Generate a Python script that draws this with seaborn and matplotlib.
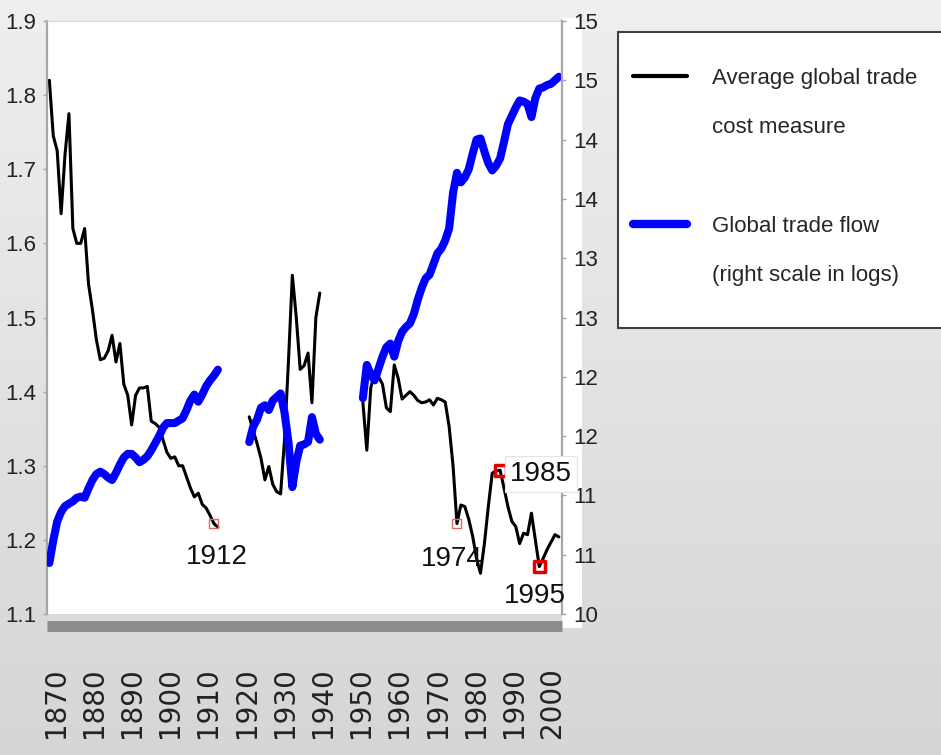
import numpy as np
import pandas as pd
import matplotlib
matplotlib.use("Agg")
import matplotlib.pyplot as plt
import seaborn as sns
from matplotlib import font_manager
from matplotlib.lines import Line2D
from matplotlib.patches import Rectangle
from matplotlib.colors import LinearSegmentedColormap

# ---------------- data ----------------
years_pre = list(range(1870, 1914))
cost_pre = [1.82, 1.745, 1.725, 1.64, 1.72, 1.775, 1.62, 1.60, 1.60, 1.62,
            1.545, 1.51, 1.47, 1.443, 1.445, 1.455, 1.476, 1.44, 1.465, 1.41,
            1.395, 1.355, 1.395, 1.405, 1.405, 1.407, 1.36, 1.357, 1.352, 1.335,
            1.318, 1.31, 1.312, 1.30, 1.30, 1.285, 1.27, 1.258, 1.263, 1.248,
            1.243, 1.233, 1.222, 1.217]
flow_pre = [10.43, 10.62, 10.78, 10.86, 10.91, 10.93, 10.95, 10.98, 10.99, 10.98,
            11.06, 11.13, 11.18, 11.20, 11.18, 11.15, 11.13, 11.19, 11.26, 11.32,
            11.35, 11.35, 11.32, 11.28, 11.30, 11.33, 11.38, 11.44, 11.50, 11.57,
            11.61, 11.61, 11.61, 11.63, 11.65, 11.72, 11.80, 11.85, 11.79, 11.85,
            11.92, 11.97, 12.01, 12.06]

years_inter = list(range(1921, 1940))
cost_inter = [1.366, 1.348, 1.33, 1.31, 1.281, 1.299, 1.275, 1.265, 1.262, 1.335,
              1.44, 1.557, 1.50, 1.43, 1.435, 1.452, 1.385, 1.50, 1.533]
flow_inter = [11.45, 11.58, 11.64, 11.74, 11.76, 11.72, 11.80, 11.83, 11.86, 11.70,
              11.45, 11.07, 11.28, 11.42, 11.43, 11.45, 11.66, 11.52, 11.47]

years_post = list(range(1950, 2001))
cost_post = [1.385, 1.321, 1.405, 1.425, 1.42, 1.41, 1.378, 1.373, 1.436, 1.418,
             1.39, 1.395, 1.40, 1.395, 1.388, 1.385, 1.386, 1.389, 1.382, 1.391,
             1.389, 1.386, 1.353, 1.30, 1.222, 1.247, 1.245, 1.228, 1.205, 1.175,
             1.155, 1.195, 1.245, 1.29, 1.293, 1.294, 1.27, 1.245, 1.225, 1.218,
             1.195, 1.209, 1.207, 1.236, 1.20, 1.164, 1.175, 1.187, 1.197, 1.207,
             1.204]
flow_post = [11.82, 12.10, 12.02, 11.97, 12.07, 12.17, 12.25, 12.28, 12.17, 12.30,
             12.38, 12.42, 12.45, 12.53, 12.65, 12.75, 12.83, 12.86, 12.95, 13.04,
             13.08, 13.15, 13.25, 13.55, 13.72, 13.64, 13.68, 13.75, 13.88, 14.00,
             14.01, 13.90, 13.80, 13.74, 13.78, 13.84, 13.98, 14.13, 14.20, 14.27,
             14.33, 14.32, 14.30, 14.19, 14.35, 14.43, 14.44, 14.46, 14.47, 14.50,
             14.53]

marked_light = [1912, 1974]
marked_strong = [1985, 1995]

left_ticks = [1.1, 1.2, 1.3, 1.4, 1.5, 1.6, 1.7, 1.8, 1.9]
left_labels = ["1.1", "1.2", "1.3", "1.4", "1.5", "1.6", "1.7", "1.8", "1.9"]
right_ticks = [10, 10.5, 11, 11.5, 12, 12.5, 13, 13.5, 14, 14.5, 15]
right_labels = ["10", "11", "11", "12", "12", "13", "13", "14", "14", "15", "15"]
x_labels = ["1870", "1880", "1890", "1900", "1910", "1920", "1930",
            "1940", "1950", "1960", "1970", "1980", "1990", "2000"]

legend_cost = ["Average global trade", "cost measure"]
legend_flow = ["Global trade flow", "(right scale in logs)"]

# ---------------- frame ----------------
df = pd.concat([
    pd.DataFrame({"year": years_pre, "cost": cost_pre, "flow": flow_pre, "seg": 1}),
    pd.DataFrame({"year": years_inter, "cost": cost_inter, "flow": flow_inter, "seg": 2}),
    pd.DataFrame({"year": years_post, "cost": cost_post, "flow": flow_post, "seg": 3}),
], ignore_index=True)

sns.set_style("white")
names = {f.name for f in font_manager.fontManager.ttflist}
NARROW = "Liberation Sans Narrow" if "Liberation Sans Narrow" in names else "Liberation Sans"
plt.rcParams["font.family"] = [NARROW, "DejaVu Sans"]

W, H = 941, 755
fig = plt.figure(figsize=(W / 100, H / 100), dpi=100)

# background gradient
bg = fig.add_axes([0, 0, 1, 1], zorder=0)
cmap = LinearSegmentedColormap.from_list("bg", ["#d6d6d6", "#efefef"])
bg.imshow(np.linspace(0, 1, 256).reshape(-1, 1), aspect="auto", cmap=cmap,
          origin="lower", extent=[0, 1, 0, 1])
bg.axis("off")

# white strip behind right tick labels
fig.patches.append(Rectangle((562 / W, (H - 628) / H), 20 / W, 610 / H,
                             transform=fig.transFigure, fc="white", ec="none", zorder=1))

ax = fig.add_axes([47 / W, (H - 614) / H, 515 / W, 593 / H], zorder=2)
ax.set_facecolor("white")
ax2 = ax.twinx()
ax2.set_zorder(3)
ax2.patch.set_visible(False)

sns.lineplot(data=df, x="year", y="cost", units="seg", estimator=None,
             color="black", lw=2.2, ax=ax, legend=False)
sns.lineplot(data=df, x="year", y="flow", units="seg", estimator=None,
             color="#0000ff", lw=5.8, ax=ax2, legend=False)

ml = df[df["year"].isin(marked_light)]
ms = df[df["year"].isin(marked_strong)]
sns.scatterplot(data=ml, x="year", y="cost", marker="s", s=42, facecolor="none",
                edgecolor="#e06a6a", linewidth=1.0, ax=ax, zorder=5, legend=False)
sns.scatterplot(data=ms, x="year", y="cost", marker="s", s=64, facecolor="none",
                edgecolor="#e00000", linewidth=2.5, ax=ax, zorder=5, legend=False)

ax.set_xlim(1869.4, 2000.8)
ax.set_ylim(1.1, 1.9)
ax2.set_ylim(10, 15)

# annotations (on ax2 so they sit above the right spine)
offsets = {1912: (3, -33), 1974: (-5, -35), 1985: (41, -4), 1995: (-4, -29)}
for yr, (dx, dy) in offsets.items():
    val = df.loc[df["year"] == yr, "cost"].iloc[0]
    kw = {}
    if yr == 1985:
        kw["bbox"] = dict(boxstyle="square,pad=0.18", fc="white", ec="#e4e4e4", lw=0.8)
    ax2.annotate(str(yr), xy=(yr, val), xycoords=ax.transData,
                 xytext=(dx, dy), textcoords="offset pixels",
                 ha="center", va="center", fontsize=20, family=NARROW,
                 color="#111111", zorder=6, annotation_clip=False, **kw)

# ticks
ax.set_yticks(left_ticks)
ax.set_yticklabels(left_labels)
ax2.set_yticks(right_ticks)
ax2.set_yticklabels(right_labels)
xpos = [1871.6 + 9.745 * k for k in range(len(x_labels))]
ax.set_xticks(xpos)
ax.set_xticklabels(x_labels)
ax.tick_params(axis="x", length=0, pad=30, labelrotation=90, labelsize=20,
               labelcolor="#222222")
ax.tick_params(axis="y", direction="out", length=3, width=1, color="#a6a6a6", pad=5,
               labelsize=16, labelcolor="#222222")
ax2.tick_params(axis="y", direction="out", length=3, width=1, color="#a6a6a6", pad=5,
                labelsize=16, labelcolor="#222222")
ax.set_xlabel("")
ax.set_ylabel("")
ax2.set_ylabel("")

ax.spines["right"].set_visible(False)
ax.spines["top"].set_color("#d8d8d8")
ax.spines["top"].set_linewidth(0.8)
ax.spines["left"].set_color("#a6a6a6")
ax.spines["left"].set_linewidth(1.6)
ax.spines["bottom"].set_position(("outward", 8.5))
ax.spines["bottom"].set_color("#8c8c8c")
ax.spines["bottom"].set_linewidth(7.9)
ax.spines["bottom"].set_capstyle("butt")
for s in ["top", "left", "bottom"]:
    ax2.spines[s].set_visible(False)
ax2.spines["right"].set_color("#a6a6a6")
ax2.spines["right"].set_linewidth(1.6)

# legend box
fig.patches.append(Rectangle((618 / W, (H - 328) / H), 340 / W, 296 / H,
                             transform=fig.transFigure, fc="white", ec="#404040",
                             lw=1.5, zorder=4))
handles = [Line2D([], [], color="black", lw=3.0),
           Line2D([], [], color="none"),
           Line2D([], [], color="none"),
           Line2D([], [], color="#0000ff", lw=6.0),
           Line2D([], [], color="none")]
labels = [legend_cost[0], legend_cost[1], " ", legend_flow[0], legend_flow[1]]
leg = fig.legend(handles, labels, loc="upper left",
                 bbox_to_anchor=(633 / W, 1 - 68 / H), frameon=False,
                 prop={"family": NARROW, "size": 16}, handlelength=2.43,
                 handletextpad=1.13, labelspacing=1.27, borderpad=0,
                 borderaxespad=0)
leg.set_zorder(5)

# final font settings for tick labels
for t in ax.get_xticklabels():
    t.set_rotation(90)
    t.set_fontsize(20)
    t.set_fontfamily("DejaVu Sans")
for t in ax.get_yticklabels() + ax2.get_yticklabels():
    t.set_fontsize(16)
    t.set_fontfamily(NARROW)

fig.savefig("out.png", dpi=100)
